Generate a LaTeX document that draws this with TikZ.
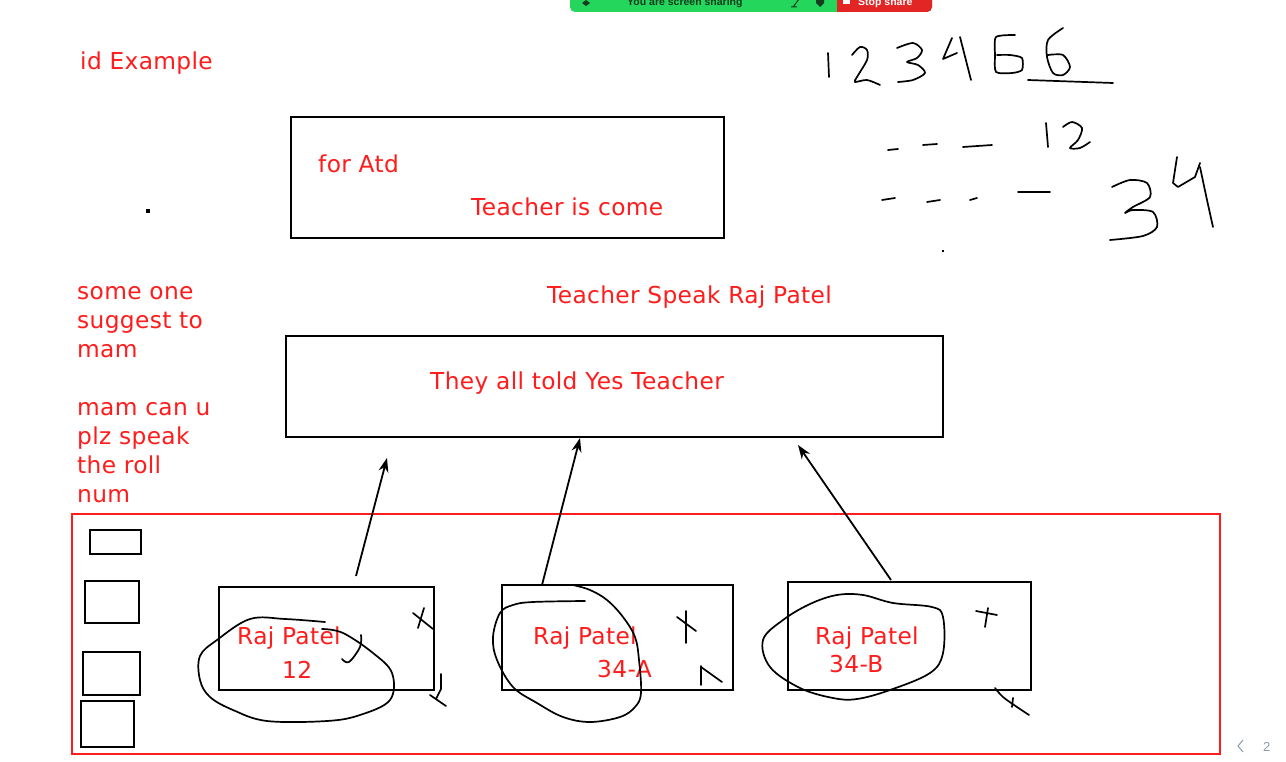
\documentclass[tikz,border=0pt]{standalone}
\usepackage{fontspec}
\setmainfont{DejaVu Sans}
\newfontfamily\uifont{Liberation Sans}
\newfontfamily\handfont[LetterSpace=1.5]{DejaVu Sans}
\usetikzlibrary{arrows.meta}
\definecolor{ink}{RGB}{255,28,28}
\definecolor{zgreen}{RGB}{36,214,92}
\definecolor{zred}{RGB}{226,38,38}
\definecolor{zdark}{RGB}{20,60,30}
\definecolor{pager}{RGB}{140,155,172}
\begin{document}
\begin{tikzpicture}[x=1pt,y=-1pt,
  txt/.style={text=ink, font=\handfont\fontsize{23.3}{29}\selectfont, inner sep=0pt, anchor=base west},
  box/.style={draw=black, line width=2pt, inner sep=0pt, anchor=north west},
  redbox/.style={draw=ink, line width=2pt, inner sep=0pt, anchor=north west},
  hand/.style={draw=black, line width=1.7pt, line cap=round, line join=round},
  arr/.style={draw=black, line width=1.8pt, -{Stealth[length=14pt,width=10pt]}}]
\useasboundingbox (0,0) rectangle (1286,762);
\fill[white] (0,0) rectangle (1286,762);
\begin{scope}
\clip (0,0) rectangle (1286,762);
% screen sharing bar
\fill[zgreen, rounded corners=5pt] (570,-12) rectangle (932,12);
\fill[zred, rounded corners=5pt] (870,-12) rectangle (932,12);
\fill[zred] (837,-12) rectangle (880,12);
\node[anchor=base west, inner sep=0pt, font=\uifont\fontsize{10.5}{12}\bfseries, text=zdark] (share) at (627,6) {You are screen sharing};
\node[anchor=base west, inner sep=0pt, font=\uifont\fontsize{10.5}{12}\bfseries, text=white] (stop) at (858,6) {Stop share};
\fill[white] (843,-2) rectangle (850,4);
\fill[zdark] (586,0) -- (590,3) -- (586,6) -- (582,3) -- cycle;
\fill[zdark] (816,-2) -- (824,-2) -- (824,3) -- (820,7) -- (816,3) -- cycle;
\draw[zdark, line width=1pt] (793,7) -- (799,-1) (791,7) -- (797,7);
\end{scope}

% texts
\node[txt] (title) at (80,70) {id Example};
\node[box, minimum width=433pt, minimum height=121pt] (atd) at (290,116) {};
\node[txt] (foratd) at (318,173) {for Atd};
\node[txt] (come) at (471,216) {Teacher is come};
\fill (146,209) rectangle (150,213);
\fill (942,250) rectangle (944,252);
\node[txt] (speak) at (547,304) {Teacher Speak Raj Patel};

\node[txt] (l1) at (77,299) {some one};
\node[txt] (l2) at (77,328) {suggest to};
\node[txt] (l3) at (77,357) {mam};
\node[txt] (l4) at (77,415) {mam can u};
\node[txt] (l5) at (77,444) {plz speak};
\node[txt] (l6) at (77,473) {the roll};
\node[txt] (l7) at (77,502) {num};

\node[box, minimum width=657pt, minimum height=101pt] (yes) at (285,335) {};
\node[txt] (yestxt) at (430,389) {They all told Yes Teacher};

% bottom frame
\node[redbox, minimum width=1148pt, minimum height=240pt] (frame) at (71,513) {};
\node[box, minimum width=51pt, minimum height=24pt] (r1) at (89,529) {};
\node[box, minimum width=54pt, minimum height=42pt] (r2) at (84,580) {};
\node[box, minimum width=57pt, minimum height=43pt] (r3) at (82,651) {};
\node[box, minimum width=53pt, minimum height=46pt] (r4) at (80,700) {};

\node[box, minimum width=215pt, minimum height=103pt] (s1) at (218,586) {};
\node[box, minimum width=231pt, minimum height=105pt] (s2) at (501,584) {};
\node[box, minimum width=243pt, minimum height=108pt] (s3) at (787,581) {};
\node[txt] (n1) at (237,644) {Raj Patel};
\node[txt] (n1b) at (282,678) {12};
\node[txt] (n2) at (533,644) {Raj Patel};
\node[txt] (n2b) at (597,677) {34-A};
\node[txt] (n3) at (815,644) {Raj Patel};
\node[txt] (n3b) at (829,672) {34-B};

% arrows
\coordinate (a1s) at (356,576); \coordinate (a1e) at (387,458);
\coordinate (a2s) at (542,585); \coordinate (a2e) at (580,438);
\coordinate (a3s) at (891,580); \coordinate (a3e) at (798,445);
\draw[arr] (a1s) -- (a1e);
\draw[arr] (a2s) -- (a2e);
\draw[arr] (a3s) -- (a3e);

% scribbles around student 1
\draw[hand] plot[smooth, tension=0.6] coordinates {(325,622) (285,619) (250,619) (217,640) (200,656) (200,680) (210,697) (233,710) (267,721) (327,721) (360,715) (390,700) (392,673) (373,653) (343,633) (322,629)};
\draw[hand] plot[smooth, tension=0.6] coordinates {(361,635) (360,647) (349,662) (342,659)};
\draw[hand] (413,613) -- (433,629) (424,608) -- (418,628);
\draw[hand] (441,674) -- (441,689) -- (436,699) (430,695) -- (446,706);
% student 2
\draw[hand] plot[smooth, tension=0.6] coordinates {(573,585) (590,590) (607,600) (623,617) (635,637) (639,660) (641,693) (635,707) (620,717) (590,722) (563,717) (537,703) (513,687) (497,660) (493,637) (500,613) (513,605) (533,602) (585,601)};
\draw[hand] (686,611) -- (686,643) (677,617) -- (696,631);
\draw[hand] (701,666) -- (701,685) (701,667) -- (722,682);
% student 3
\draw[hand] plot[smooth cycle, tension=0.6] coordinates {(763,640) (783,620) (810,604) (837,595) (863,595) (893,603) (932,607) (943,617) (943,653) (930,673) (890,690) (857,699) (833,698) (800,688) (770,667)};
\draw[hand] (976,611) -- (997,615) (988,608) -- (985,627);
\draw[hand] plot[smooth, tension=0.6] coordinates {(995,688) (1003,697) (1017,707) (1029,715)};
\draw[hand] (1013,698) -- (1012,707);

% handwritten numbers top right
\draw[hand] (828,53) -- (829,77);
\draw[hand] plot[smooth, tension=0.5] coordinates {(852,55) (860,47) (867,50) (867,60) (857,77) (855,82) (867,80) (880,85)};
\draw[hand] plot[smooth, tension=0.5] coordinates {(897,48) (913,43) (922,50) (917,58) (907,62) (918,65) (925,73) (913,80) (898,82)};
\draw[hand] (952,38) -- (943,59) -- (957,53) (960,37) -- (971,80);
\draw[hand] plot[smooth, tension=0.4] coordinates {(1015,35) (996,37) (995,55) (996,72) (1012,73) (1022,70) (1022,58) (1010,55) (997,55)};
\draw[hand] plot[smooth, tension=0.5] coordinates {(1063,28) (1048,40) (1047,57) (1053,73) (1063,75) (1070,67) (1063,55) (1048,55)};
\draw[hand] (1028,80) -- (1113,83);
\draw[hand] (888,150) -- (898,149) (923,145) -- (937,144) (963,147) -- (992,145);
\draw[hand] (1046,123) -- (1048,147);
\draw[hand] plot[smooth, tension=0.5] coordinates {(1063,127) (1072,122) (1082,128) (1078,140) (1070,148) (1080,148) (1090,142)};
\draw[hand] (882,200) -- (895,198) (927,202) -- (940,200) (970,200) -- (977,198) (1018,192) -- (1050,192);
\draw[hand] plot[smooth, tension=0.5] coordinates {(1112,187) (1130,180) (1147,183) (1150,197) (1133,207) (1125,213) (1133,210) (1153,212) (1157,227) (1143,236) (1110,240)};
\draw[hand] (1177,157) -- (1173,183) -- (1178,187) -- (1195,177) -- (1200,163);
\draw[hand] plot[smooth, tension=0.5] coordinates {(1200,167) (1207,200) (1213,227)};

% pager
\draw[pager, line width=1pt] (1243,740) -- (1238,746) -- (1243,752);
\node[anchor=base west, inner sep=0pt, font=\uifont\fontsize{13}{15}\selectfont, text=pager] (page) at (1263,751) {2};
\end{tikzpicture}
\end{document}
